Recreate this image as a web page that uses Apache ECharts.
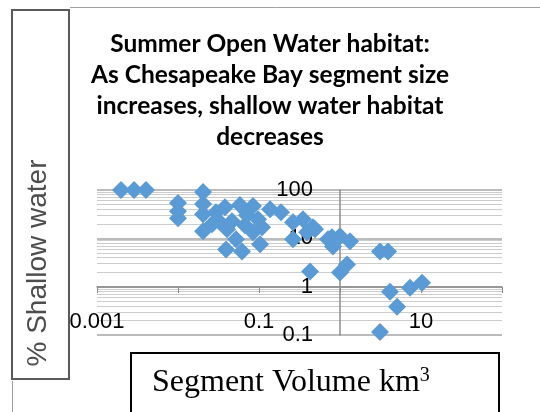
<!DOCTYPE html>
<html>
<head>
<meta charset="utf-8">
<style>
  html, body { margin: 0; padding: 0; background: #ffffff; }
  #chart { width: 540px; height: 412px; }
</style>
<script src="https://cdn.jsdelivr.net/npm/echarts@6/dist/echarts.min.js"></script>
</head>
<body>
<div id="chart"></div>
<script>
// Segment volume (km^3) for each Chesapeake Bay segment
const volume = [0.00198, 0.00287, 0.00403, 0.01, 0.01, 0.01, 0.0204, 0.0204, 0.0204, 0.0204,
  0.0294, 0.038, 0.032, 0.0582, 0.0711, 0.0403, 0.0392, 0.0617, 0.103, 0.0843,
  0.137, 0.187, 0.263, 0.349, 0.392, 0.263, 0.464, 0.427, 0.711, 0.491,
  0.796, 1.0, 1.33, 0.82, 1.22, 1.0, 3.12, 3.92, 4.14, 5.06,
  7.31, 10.3, 3.12, 0.0464, 0.0843, 0.109, 0.052, 0.0263, 0.0671, 0.0973];
// Percent of the segment that is shallow water
const shallow = [100, 100, 100, 53.6, 36.5, 26.1, 90.9, 51.1, 31.6, 14.0,
  34.8, 44.2, 22.6, 48.7, 30.2, 15.4, 5.9, 5.36, 7.5, 13.3,
  40.2, 34.8, 21.5, 24.9, 13.3, 9.53, 16.9, 2.05, 9.53, 15.4,
  10.5, 11.0, 8.66, 6.81, 2.87, 1.96, 5.36, 5.36, 0.787, 0.383,
  0.953, 1.21, 0.115, 22.6, 46.4, 16.9, 9.53, 19.6, 18.7, 24.9];
// Decade labels shown on each axis
const xTickLabels = ['0.001', '0.1', '10'];
const yTickLabels = ['0.1', '1', '10', '100'];

const titleText = 'Summer Open Water habitat:\nAs Chesapeake Bay segment size\nincreases, shallow water habitat\ndecreases';

const points = volume.map((v, i) => [v, shallow[i]]);

function fmt(v) {
  // round away floating noise from the log scale
  return String(parseFloat(v.toPrecision(6)));
}

const chart = echarts.init(document.getElementById('chart'), null, { renderer: 'canvas' });

chart.setOption({
  animation: false,
  backgroundColor: '#ffffff',
  title: {
    text: titleText,
    left: 'center',
    top: 29,
    padding: [0, 0, 0, 4],
    textStyle: {
      fontFamily: 'Lato',
      fontWeight: 'bold',
      fontSize: 24.5,
      lineHeight: 31,
      color: '#000000'
    }
  },
  grid: { left: 97, right: 38, top: 190, bottom: 77 },
  xAxis: {
    type: 'log',
    logBase: 10,
    min: 0.001,
    max: 100,
    position: 'bottom',
    offset: -48,
    axisLine: { show: true, lineStyle: { color: '#8c8c8c', width: 1.5 } },
    axisTick: { show: true, length: 6, lineStyle: { color: '#8c8c8c' } },
    axisLabel: {
      margin: 24,
      fontFamily: 'Liberation Sans',
      fontSize: 22,
      color: '#000000',
      formatter: v => (xTickLabels.indexOf(fmt(v)) >= 0 ? fmt(v) : '')
    },
    splitLine: { show: false }
  },
  yAxis: {
    type: 'log',
    logBase: 10,
    min: 0.1,
    max: 100,
    position: 'left',
    offset: -243,
    axisLine: { show: true, lineStyle: { color: '#8c8c8c', width: 1.5 } },
    axisTick: { show: false },
    axisLabel: {
      margin: 27,
      fontFamily: 'Liberation Sans',
      fontSize: 22,
      color: '#000000',
      formatter: v => (yTickLabels.indexOf(fmt(v)) >= 0 ? fmt(v) : '')
    },
    splitLine: { show: true, lineStyle: { color: '#a6a6a6', width: 1.5 } },
    minorTick: { show: false, splitNumber: 9 },
    minorSplitLine: { show: true, lineStyle: { color: '#cccccc', width: 1 } }
  },
  series: [{
    type: 'scatter',
    data: points,
    symbol: 'diamond',
    symbolSize: 18,
    clip: false,
    itemStyle: { color: '#5b9bd5', opacity: 1 }
  }],
  graphic: [
    // outer chart border
    {
      type: 'rect', z: 90, silent: true,
      shape: { x: 12.5, y: 7.5, width: 600, height: 500 },
      style: { fill: null, stroke: '#a0a0a0', lineWidth: 1 }
    },
    // box holding the vertical axis title
    {
      type: 'rect', z: 91, silent: true,
      shape: { x: 10, y: 0, width: 60, height: 381 },
      style: { fill: '#ffffff' }
    },
    {
      type: 'rect', z: 92, silent: true,
      shape: { x: 12, y: 10, width: 57, height: 369 },
      style: { fill: '#ffffff', stroke: '#5a5a5a', lineWidth: 2 }
    },
    {
      type: 'text', z: 93, silent: true,
      x: 38, y: 263, rotation: Math.PI / 2,
      style: {
        text: '% Shallow water',
        fontFamily: 'Liberation Sans',
        fontSize: 28,
        fill: '#4d4d4d',
        align: 'center',
        verticalAlign: 'middle'
      }
    },
    // box holding the horizontal axis title
    {
      type: 'rect', z: 92, silent: true,
      shape: { x: 131, y: 353, width: 368, height: 62 },
      style: { fill: '#ffffff', stroke: '#000000', lineWidth: 2 }
    },
    {
      type: 'text', z: 93, silent: true,
      x: 152, y: 383,
      style: {
        text: '{a|Segment Volume km}{s|3}',
        align: 'left',
        verticalAlign: 'middle',
        rich: {
          a: { fontFamily: 'Liberation Serif', fontSize: 32, fill: '#000000', lineHeight: 36 },
          s: { fontFamily: 'Liberation Serif', fontSize: 20, fill: '#000000', lineHeight: 36, padding: [0, 0, 14, 0] }
        }
      }
    }
  ]
});
</script>
</body>
</html>
